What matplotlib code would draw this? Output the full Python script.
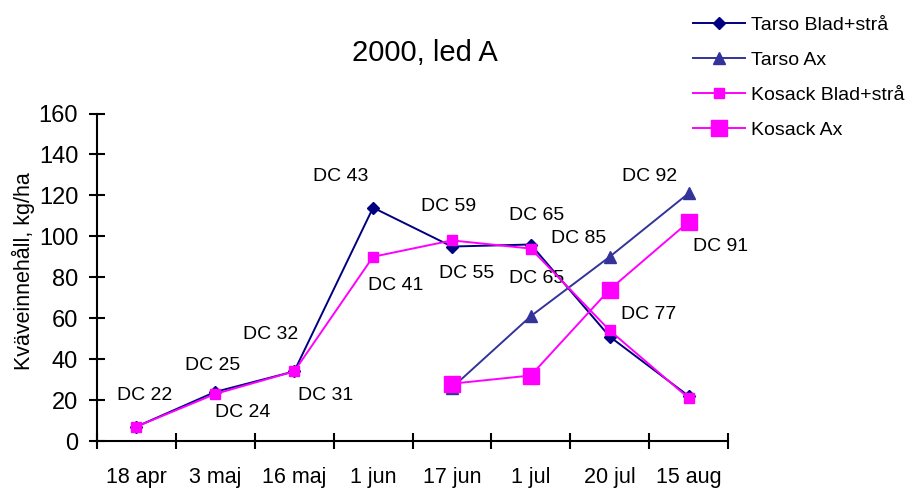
import numpy as np
import matplotlib
matplotlib.use('Agg')
import matplotlib.pyplot as plt

plt.rcParams['font.family'] = ['Liberation Sans', 'DejaVu Sans']

# Sampling dates and nitrogen content (kg/ha)
dates = ['18 apr', '3 maj', '16 maj', '1 jun', '17 jun', '1 jul', '20 jul', '15 aug']
tarso_blad = [7, 24, 34, 114, 95, 96, 51, 22]
tarso_ax = [np.nan, np.nan, np.nan, np.nan, 26, 61, 90, 121]
kosack_blad = [7, 23, 34, 90, 98, 94, 54, 21]
kosack_ax = [np.nan, np.nan, np.nan, np.nan, 28, 32, 74, 107]

# Development stage labels (text, x index, y value)
dc_labels = [
    ('DC 22', 0.10, 22), ('DC 25', 0.97, 37), ('DC 24', 1.35, 14),
    ('DC 32', 1.70, 52), ('DC 31', 2.40, 22), ('DC 43', 2.59, 129),
    ('DC 41', 3.29, 76), ('DC 59', 3.96, 114.5), ('DC 55', 4.19, 82),
    ('DC 65', 5.07, 110), ('DC 65', 5.07, 79.5), ('DC 85', 5.61, 99),
    ('DC 92', 6.50, 129), ('DC 77', 6.49, 62), ('DC 91', 7.40, 95),
]

fig = plt.figure(figsize=(9.06, 4.91), dpi=100)
ax = fig.add_axes([97/906, 1-441/491, (728-97)/906, (441-113.5)/491])

x = np.arange(len(dates))
ax.plot(x, tarso_blad, color='#000080', lw=1.4, marker='D', ms=6.5,
        label='Tarso Blad+strå', zorder=3)
ax.plot(x, tarso_ax, color='#333399', lw=1.4, marker='^', ms=9,
        label='Tarso Ax', zorder=3)
ax.plot(x, kosack_blad, color='#ff00ff', lw=1.4, marker='s', ms=7,
        mec='#ff00ff', mfc='#ff00ff', label='Kosack Blad+strå', zorder=4)
ax.plot(x, kosack_ax, color='#ff00ff', lw=1.4, marker='s', ms=11.5,
        label='Kosack Ax', zorder=4)

for txt, lx, ly in dc_labels:
    ax.text(lx, ly, txt, fontsize=14, ha='center', va='center')

ax.set_xlim(-0.5, len(dates) - 0.5)
ax.set_ylim(0, 160)
ax.set_yticks(range(0, 161, 20))
ax.set_xticks(np.arange(-0.5, len(dates), 1.0))
ax.set_xticklabels([])
ax.set_xticks(x, minor=True)
ax.set_xticklabels(dates, minor=True, fontsize=15.5)
ax.tick_params(axis='x', which='minor', length=0, pad=19)
ax.tick_params(axis='x', which='major', direction='inout', length=11, width=1.5)
ax.tick_params(axis='y', direction='inout', length=11, width=1.5, labelsize=17, pad=8)

for side in ['top', 'right']:
    ax.spines[side].set_visible(False)
for side in ['left', 'bottom']:
    ax.spines[side].set_linewidth(1.5)

ax.set_ylabel('Kväveinnehåll, kg/ha', fontsize=15.5)
ax.yaxis.set_label_coords(-62/631, 0.52)

fig.text(425/906, 1-53/491, '2000, led A', fontsize=21, ha='center', va='center')

fig.legend(loc='upper left', bbox_to_anchor=(693/906, 1-16/491), frameon=False,
           fontsize=14, handlelength=2.65, handletextpad=0.35, labelspacing=0.9,
           borderpad=0, borderaxespad=0)

fig.savefig('out.png', dpi=100)
